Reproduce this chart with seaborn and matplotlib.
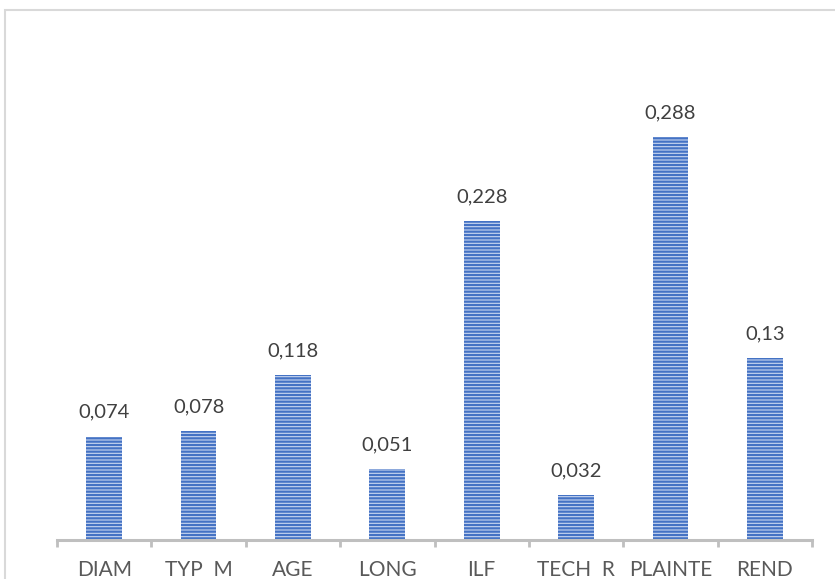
import matplotlib
matplotlib.use("Agg")
import matplotlib.pyplot as plt
from matplotlib.patches import Rectangle
import seaborn as sns
import pandas as pd

categories = ["DIAM", "TYP  M", "AGE", "LONG", "ILF", "TECH  R", "PLAINTE", "REND"]
values = [0.074, 0.078, 0.118, 0.051, 0.228, 0.032, 0.288, 0.13]
value_labels = ["0,074", "0,078", "0,118", "0,051", "0,228", "0,032", "0,288", "0,13"]

df = pd.DataFrame({"cat": categories, "val": values})

sns.set_theme(style="white")
plt.rcParams["font.family"] = ["Lato", "DejaVu Sans"]
plt.rcParams["hatch.linewidth"] = 1.6

W, H = 835, 579
fig = plt.figure(figsize=(W / 100, H / 100), dpi=100)
ax = fig.add_axes([57 / W, 1 - 540 / H, 755 / W, 501 / H])

sns.barplot(data=df, x="cat", y="val", ax=ax, width=0.38,
            color="#B4C7EA", saturation=1, linewidth=0,
            edgecolor="#4472C4", hatch="-----")
for p in ax.patches:
    p.set_edgecolor("#4472C4")
    p.set_linewidth(0)
    p.set_hatch("-----")
    p.set_facecolor("#C9D6F0")

for i, (v, lab) in enumerate(zip(values, value_labels)):
    ax.annotate(lab, (i, v), xytext=(0, 13.5), textcoords="offset points",
                ha="center", va="baseline", fontsize=14.5, color="#404040")

ax.set_xlim(-0.5, len(categories) - 0.5)
ax.set_ylim(0, 501 / 1398)
ax.set_xlabel("")
ax.set_ylabel("")
ax.set_yticks([])
for s in ["top", "right", "left"]:
    ax.spines[s].set_visible(False)
ax.spines["bottom"].set_color("#BFBFBF")
ax.spines["bottom"].set_linewidth(2.2)

ax.set_xticks(range(len(categories)))
ax.set_xticklabels(categories, fontsize=15, color="#595959")
ax.tick_params(axis="x", which="major", length=0, pad=14.5)
ax.set_xticks([i - 0.5 for i in range(len(categories) + 1)], minor=True)
ax.tick_params(axis="x", which="minor", length=5, width=2, color="#BFBFBF",
               bottom=True, direction="out")

fig.patches.append(Rectangle((5 / W, -0.05), 2, 1 - 10 / H + 0.05,
                             transform=fig.transFigure, fill=False,
                             edgecolor="#D9D9D9", linewidth=1.5))

fig.savefig("out.png", dpi=100)
